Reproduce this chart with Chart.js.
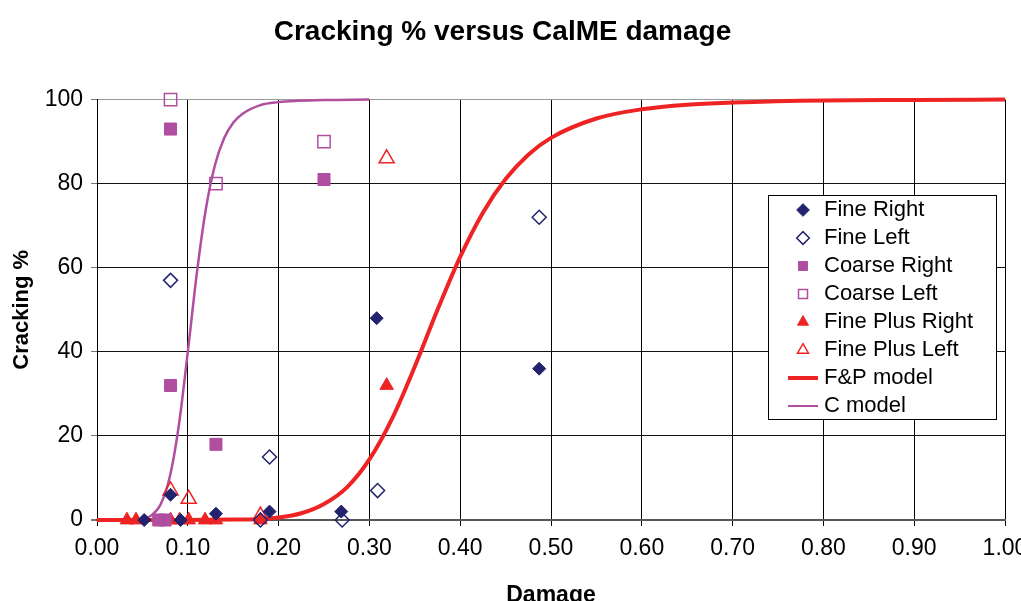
<!DOCTYPE html>
<html>
<head>
<meta charset="utf-8">
<title>Cracking % versus CalME damage</title>
<script src="https://cdn.jsdelivr.net/npm/chart.js@4.4.1/dist/chart.umd.min.js"></script>
<style>
  body { margin: 0; background: #fff; }
  canvas { display: block; }
</style>
</head>
<body>
<canvas id="crackChart" width="1021" height="601"></canvas>
<script>
// measured points (damage, cracking %)
const fineRightX = [0.052, 0.081, 0.092, 0.131, 0.19, 0.269, 0.308, 0.487];
const fineRightY = [0, 6, 0, 1.5, 2, 2, 48, 36];
const fineLeftX = [0.081, 0.18, 0.19, 0.27, 0.309, 0.487];
const fineLeftY = [57, 0, 15, 0, 7, 72];
const coarseRightX = [0.068, 0.075, 0.081, 0.081, 0.131, 0.25];
const coarseRightY = [0, 0, 32, 93, 18, 81];
const coarseLeftX = [0.081, 0.131, 0.25];
const coarseLeftY = [100, 80, 90];
const finePlusRightX = [0.033, 0.043, 0.081, 0.091, 0.101, 0.119, 0.131, 0.18, 0.319];
const finePlusRightY = [0, 0, 0, 0, 0, 0, 0, 0, 32];
const finePlusLeftX = [0.081, 0.101, 0.18, 0.319];
const finePlusLeftY = [7, 5, 1, 86];

// model curves
const fpModelX = [0, 0.05, 0.10, 0.15, 0.175, 0.20, 0.225, 0.25, 0.275, 0.30, 0.325, 0.35, 0.375, 0.40, 0.425, 0.45, 0.475, 0.50, 0.55, 0.60, 0.65, 0.70, 0.80, 0.90, 1.00];
const fpModelY = [0, 0, 0, 0.1, 0.2, 0.6, 1.6, 3.8, 7.7, 14.4, 24.1, 36.5, 50, 62.6, 73.1, 81.1, 86.9, 90.9, 95.5, 97.7, 98.8, 99.3, 99.8, 99.9, 100];
const cModelX = [0.01, 0.04, 0.05, 0.06, 0.07, 0.08, 0.09, 0.10, 0.11, 0.12, 0.13, 0.14, 0.15, 0.16, 0.18, 0.20, 0.22, 0.25, 0.30];
const cModelY = [0, 0, 0.3, 1.1, 3.7, 10.1, 22.3, 40, 58.8, 74.1, 84.5, 90.8, 94.5, 96.6, 98.7, 99.4, 99.7, 99.9, 100];

const xTicks = [0, 0.1, 0.2, 0.3, 0.4, 0.5, 0.6, 0.7, 0.8, 0.9, 1.0];
const yTicks = [0, 20, 40, 60, 80, 100];

const NAVY = '#22226e';
const PURPLE = '#b04ea0';
const RED = '#ee2424';

function pairs(xs, ys) {
  return xs.map((x, i) => ({x: x, y: ys[i]}));
}

// little line images for the two model entries of the legend
function lineIcon(color, thick) {
  const c = document.createElement('canvas');
  c.width = 30; c.height = thick;
  const g = c.getContext('2d');
  g.fillStyle = color;
  g.fillRect(0, 0, 30, thick);
  return c;
}

const legendBox = {
  id: 'legendBox',
  afterUpdate(chart) {
    const lg = chart.legend;
    lg.left = 787; lg.top = 193;
    lg.right = 997; lg.bottom = 433;
    lg.width = lg.right - lg.left;
    lg.height = lg.bottom - lg.top;
  },
  afterDraw(chart) {
    const ctx = chart.ctx;
    ctx.save();
    ctx.fillStyle = '#fff';
    ctx.fillRect(768, 195, 229, 225);
    ctx.strokeStyle = '#000';
    ctx.lineWidth = 1;
    ctx.strokeRect(768.5, 195.5, 228, 224);
    ctx.restore();
    chart.legend.draw();
  }
};

Chart.defaults.font.family = "'Liberation Sans', Arial, sans-serif";
Chart.defaults.color = '#000';

const ctx = document.getElementById('crackChart').getContext('2d');
const myChart = new Chart(ctx, {
  type: 'scatter',
  data: {
    datasets: [
      {label: 'Fine Right', data: pairs(fineRightX, fineRightY), pointStyle: 'rectRot', pointRadius: 6.5,
       backgroundColor: NAVY, borderColor: NAVY, borderWidth: 1},
      {label: 'Fine Left', data: pairs(fineLeftX, fineLeftY), pointStyle: 'rectRot', pointRadius: 7,
       backgroundColor: 'rgba(0,0,0,0)', borderColor: NAVY, borderWidth: 1.5},
      {label: 'Coarse Right', data: pairs(coarseRightX, coarseRightY), pointStyle: 'rect', pointRadius: 8.5,
       backgroundColor: PURPLE, borderColor: PURPLE, borderWidth: 1},
      {label: 'Coarse Left', data: pairs(coarseLeftX, coarseLeftY), pointStyle: 'rect', pointRadius: 8.7,
       backgroundColor: 'rgba(0,0,0,0)', borderColor: PURPLE, borderWidth: 1.5},
      {label: 'Fine Plus Right', data: pairs(finePlusRightX, finePlusRightY), pointStyle: 'triangle', pointRadius: 7.8,
       backgroundColor: RED, borderColor: RED, borderWidth: 1},
      {label: 'Fine Plus Left', data: pairs(finePlusLeftX, finePlusLeftY), pointStyle: 'triangle', pointRadius: 8.7,
       backgroundColor: 'rgba(0,0,0,0)', borderColor: RED, borderWidth: 1.5},
      {label: 'F&P model', data: pairs(fpModelX, fpModelY), showLine: true, pointRadius: 0,
       pointStyle: lineIcon(RED, 4), borderColor: RED, borderWidth: 4, cubicInterpolationMode: 'monotone'},
      {label: 'C model', data: pairs(cModelX, cModelY), showLine: true, pointRadius: 0,
       pointStyle: lineIcon(PURPLE, 2), borderColor: PURPLE, borderWidth: 2.5, cubicInterpolationMode: 'monotone'}
    ]
  },
  options: {
    responsive: false,
    animation: false,
    devicePixelRatio: 1,
    clip: false,
    layout: {padding: {left: 0, right: 16, top: 0, bottom: 0}},
    events: [],
    plugins: {
      title: {
        display: true,
        text: 'Cracking % versus CalME damage',
        font: {size: 28, weight: 'bold'},
        color: '#000',
        padding: {top: 15, bottom: 51}
      },
      legend: {
        position: 'chartArea',
        align: 'start',
        labels: {
          usePointStyle: true,
          boxWidth: 20,
          boxHeight: 9,
          padding: 6,
          font: {size: 22},
          color: '#000'
        }
      },
      tooltip: {enabled: false}
    },
    scales: {
      x: {
        type: 'linear',
        min: 0,
        max: 1,
        afterFit(scale) { scale.height = 81; scale.paddingLeft = 0; scale.paddingRight = 0; },
        afterBuildTicks(scale) { scale.ticks = xTicks.map(v => ({value: v})); },
        ticks: {
          font: {size: 23},
          padding: 9,
          maxRotation: 0,
          callback: v => v.toFixed(2)
        },
        grid: {
          color: '#000',
          lineWidth: 1,
          tickLength: 6,
          tickColor: '#000'
        },
        border: {display: true, color: '#555', width: 2},
        title: {
          display: true,
          text: 'Damage',
          font: {size: 23, weight: 'bold'},
          padding: {top: 0, bottom: -8}
        }
      },
      y: {
        min: 0,
        max: 100,
        afterFit(scale) { scale.width = 97; scale.paddingTop = 0; scale.paddingBottom = 0; },
        afterBuildTicks(scale) { scale.ticks = yTicks.map(v => ({value: v})); },
        ticks: {
          font: {size: 23},
          padding: 8
        },
        grid: {
          color: c => {
            const v = c.tick ? c.tick.value : null;
            if (v === 100) return '#9a9a9a';
            if (v === 0) return '#555';
            return '#111';
          },
          lineWidth: c => (c.tick && c.tick.value === 0) ? 2 : 1,
          tickLength: 6,
          tickColor: '#777'
        },
        border: {display: true, color: '#000', width: 1},
        title: {
          display: true,
          text: 'Cracking %',
          font: {size: 22, weight: 'bold'},
          padding: {top: 9, bottom: 0}
        }
      }
    }
  },
  plugins: [legendBox]
});
</script>
</body>
</html>
